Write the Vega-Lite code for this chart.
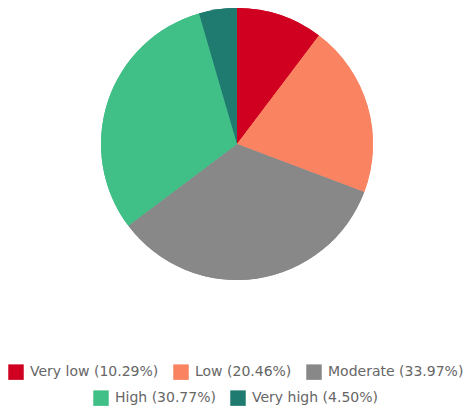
{
  "$schema": "https://vega.github.io/schema/vega-lite/v6.json",
  "width": 474,
  "height": 288,
  "autosize": {"type": "pad"},
  "padding": 0,
  "background": "white",
  "view": {"stroke": null},
  "data": {
    "values": [
      {"level": "Very low (10.29%)", "pct": 10.29, "ord": 1},
      {"level": "Low (20.46%)", "pct": 20.46, "ord": 2},
      {"level": "Moderate (33.97%)", "pct": 33.97, "ord": 3},
      {"level": "High (30.77%)", "pct": 30.77, "ord": 4},
      {"level": "Very high (4.50%)", "pct": 4.50, "ord": 5}
    ]
  },
  "config": {
    "legend": {
      "title": null,
      "orient": "none",
      "direction": "horizontal",
      "symbolType": "square",
      "symbolSize": 240,
      "symbolStrokeWidth": 0,
      "labelFont": "DejaVu Sans",
      "labelFontSize": 14,
      "labelColor": "#666666",
      "labelLimit": 300,
      "labelOffset": 6,
      "columnPadding": 14,
      "symbolOffset": 0
    }
  },
  "layer": [
    {
      "mark": {"type": "arc", "outerRadius": 136},
      "encoding": {
        "theta": {"field": "pct", "type": "quantitative", "stack": true},
        "order": {"field": "ord", "type": "quantitative"},
        "color": {
          "field": "level",
          "type": "nominal",
          "scale": {
            "domain": ["Very low (10.29%)", "Low (20.46%)", "Moderate (33.97%)", "High (30.77%)", "Very high (4.50%)"],
            "range": ["#cf0020", "#fa8462", "#888888", "#40bf87", "#1f7b6f"]
          },
          "legend": {
            "values": ["Very low (10.29%)", "Low (20.46%)", "Moderate (33.97%)"],
            "legendX": 8,
            "legendY": 364
          }
        }
      }
    },
    {
      "mark": {"type": "arc", "outerRadius": 136},
      "encoding": {
        "theta": {"field": "pct", "type": "quantitative", "stack": true},
        "order": {"field": "ord", "type": "quantitative"},
        "color": {
          "field": "level",
          "type": "nominal",
          "scale": {
            "domain": ["Very low (10.29%)", "Low (20.46%)", "Moderate (33.97%)", "High (30.77%)", "Very high (4.50%)"],
            "range": ["#cf0020", "#fa8462", "#888888", "#40bf87", "#1f7b6f"]
          },
          "legend": {
            "values": ["High (30.77%)", "Very high (4.50%)"],
            "legendX": 93,
            "legendY": 390
          }
        }
      }
    }
  ],
  "resolve": {"scale": {"color": "independent"}}
}
